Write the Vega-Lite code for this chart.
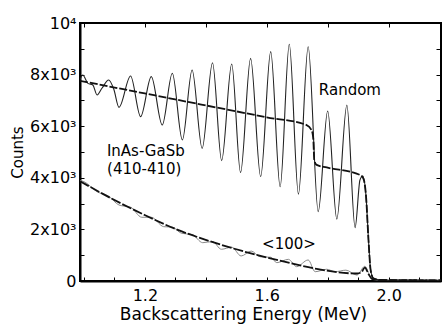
{
  "$schema": "https://vega.github.io/schema/vega-lite/v6.json",
  "width": 361,
  "height": 258,
  "autosize": {"type": "none"},
  "padding": {"left": 80, "top": 23, "right": 1, "bottom": 44},
  "background": "white",
  "config": {
    "view": {"stroke": "black", "strokeWidth": 2},
    "font": "DejaVu Sans",
    "axis": {"labelFont": "DejaVu Sans", "titleFont": "DejaVu Sans", "labelColor": "black", "titleColor": "black", "domainColor": "black", "tickColor": "black", "grid": false, "titleFontWeight": "normal"}
  },
  "datasets": {
    "curves": [
      {"series": "random", "E": 0.987, "C": 7800},
      {"series": "random", "E": 0.996, "C": 7985},
      {"series": "random", "E": 1.013, "C": 7660},
      {"series": "random", "E": 1.029, "C": 7600},
      {"series": "random", "E": 1.043, "C": 7210},
      {"series": "random", "E": 1.059, "C": 7470},
      {"series": "random", "E": 1.081, "C": 7790},
      {"series": "random", "E": 1.098, "C": 7430},
      {"series": "random", "E": 1.115, "C": 6730},
      {"series": "random", "E": 1.153, "C": 7945},
      {"series": "random", "E": 1.186, "C": 6370},
      {"series": "random", "E": 1.221, "C": 7920},
      {"series": "random", "E": 1.257, "C": 6045},
      {"series": "random", "E": 1.290, "C": 8050},
      {"series": "random", "E": 1.323, "C": 5465},
      {"series": "random", "E": 1.355, "C": 8180},
      {"series": "random", "E": 1.388, "C": 5140},
      {"series": "random", "E": 1.422, "C": 8460},
      {"series": "random", "E": 1.452, "C": 4665},
      {"series": "random", "E": 1.485, "C": 8410},
      {"series": "random", "E": 1.514, "C": 4200},
      {"series": "random", "E": 1.547, "C": 8630},
      {"series": "random", "E": 1.580, "C": 4040},
      {"series": "random", "E": 1.613, "C": 8890},
      {"series": "random", "E": 1.644, "C": 3655},
      {"series": "random", "E": 1.674, "C": 9175},
      {"series": "random", "E": 1.704, "C": 3370},
      {"series": "random", "E": 1.736, "C": 9080},
      {"series": "random", "E": 1.769, "C": 2690},
      {"series": "random", "E": 1.800, "C": 6590},
      {"series": "random", "E": 1.830, "C": 2400},
      {"series": "random", "E": 1.863, "C": 6820},
      {"series": "random", "E": 1.890, "C": 2065},
      {"series": "random", "E": 1.906, "C": 3915},
      {"series": "random", "E": 1.915, "C": 4070},
      {"series": "random", "E": 1.926, "C": 3270},
      {"series": "random", "E": 1.934, "C": 1590},
      {"series": "random", "E": 1.941, "C": 426},
      {"series": "random", "E": 1.950, "C": 105},
      {"series": "random", "E": 1.972, "C": 40},
      {"series": "random", "E": 2.000, "C": 25},
      {"series": "random", "E": 2.172, "C": 20},

      {"series": "randomFit", "E": 0.987, "C": 7760},
      {"series": "randomFit", "E": 1.200, "C": 7270},
      {"series": "randomFit", "E": 1.381, "C": 6850},
      {"series": "randomFit", "E": 1.600, "C": 6345},
      {"series": "randomFit", "E": 1.731, "C": 6045},
      {"series": "randomFit", "E": 1.748, "C": 5820},
      {"series": "randomFit", "E": 1.753, "C": 5465},
      {"series": "randomFit", "E": 1.756, "C": 4690},
      {"series": "randomFit", "E": 1.764, "C": 4500},
      {"series": "randomFit", "E": 1.797, "C": 4400},
      {"series": "randomFit", "E": 1.906, "C": 4110},
      {"series": "randomFit", "E": 1.917, "C": 3980},
      {"series": "randomFit", "E": 1.926, "C": 3270},
      {"series": "randomFit", "E": 1.934, "C": 1590},
      {"series": "randomFit", "E": 1.941, "C": 426},
      {"series": "randomFit", "E": 1.950, "C": 105},
      {"series": "randomFit", "E": 1.972, "C": 40},
      {"series": "randomFit", "E": 2.172, "C": 25},

      {"series": "aligned", "E": 0.987, "C": 3900},
      {"series": "aligned", "E": 1.000, "C": 3850},
      {"series": "aligned", "E": 1.043, "C": 3460},
      {"series": "aligned", "E": 1.081, "C": 3290},
      {"series": "aligned", "E": 1.115, "C": 2945},
      {"series": "aligned", "E": 1.153, "C": 2860},
      {"series": "aligned", "E": 1.190, "C": 2470},
      {"series": "aligned", "E": 1.221, "C": 2470},
      {"series": "aligned", "E": 1.262, "C": 2105},
      {"series": "aligned", "E": 1.290, "C": 2090},
      {"series": "aligned", "E": 1.320, "C": 1850},
      {"series": "aligned", "E": 1.355, "C": 1800},
      {"series": "aligned", "E": 1.390, "C": 1485},
      {"series": "aligned", "E": 1.422, "C": 1530},
      {"series": "aligned", "E": 1.451, "C": 1230},
      {"series": "aligned", "E": 1.485, "C": 1310},
      {"series": "aligned", "E": 1.516, "C": 970},
      {"series": "aligned", "E": 1.549, "C": 1160},
      {"series": "aligned", "E": 1.578, "C": 940},
      {"series": "aligned", "E": 1.613, "C": 920},
      {"series": "aligned", "E": 1.633, "C": 710},
      {"series": "aligned", "E": 1.671, "C": 840},
      {"series": "aligned", "E": 1.698, "C": 555},
      {"series": "aligned", "E": 1.736, "C": 815},
      {"series": "aligned", "E": 1.759, "C": 360},
      {"series": "aligned", "E": 1.797, "C": 455},
      {"series": "aligned", "E": 1.824, "C": 360},
      {"series": "aligned", "E": 1.860, "C": 420},
      {"series": "aligned", "E": 1.896, "C": 230},
      {"series": "aligned", "E": 1.922, "C": 570},
      {"series": "aligned", "E": 1.945, "C": 65},
      {"series": "aligned", "E": 1.972, "C": 30},
      {"series": "aligned", "E": 2.172, "C": 25},

      {"series": "alignedFit", "E": 0.987, "C": 3870},
      {"series": "alignedFit", "E": 1.089, "C": 3205},
      {"series": "alignedFit", "E": 1.199, "C": 2560},
      {"series": "alignedFit", "E": 1.308, "C": 1980},
      {"series": "alignedFit", "E": 1.418, "C": 1525},
      {"series": "alignedFit", "E": 1.545, "C": 1080},
      {"series": "alignedFit", "E": 1.654, "C": 760},
      {"series": "alignedFit", "E": 1.764, "C": 470},
      {"series": "alignedFit", "E": 1.896, "C": 290},
      {"series": "alignedFit", "E": 1.910, "C": 330},
      {"series": "alignedFit", "E": 1.922, "C": 520},
      {"series": "alignedFit", "E": 1.935, "C": 250},
      {"series": "alignedFit", "E": 1.946, "C": 80},
      {"series": "alignedFit", "E": 1.972, "C": 30},
      {"series": "alignedFit", "E": 2.172, "C": 25}
    ],
    "labels": [
      {"text": "Random", "E": 1.873, "C": 7400},
      {"text": "InAs-GaSb", "E": 1.203, "C": 5020},
      {"text": "(410-410)", "E": 1.198, "C": 4330},
      {"text": "<100>", "E": 1.673, "C": 1415}
    ],
    "frame": [
      {"E": 1.5, "C": 5000}
    ]
  },
  "layer": [
    {
      "encoding": {
        "x": {
          "field": "E", "type": "quantitative",
          "scale": {"domain": [0.987, 2.172], "zero": false, "nice": false},
          "axis": {
            "title": "Backscattering Energy (MeV)",
            "titleFontSize": 17, "titlePadding": 3, "titleX": 163, "titleAlign": "center",
            "values": [1.0, 1.1, 1.2, 1.3, 1.4, 1.5, 1.6, 1.7, 1.8, 1.9, 2.0, 2.1],
            "labelExpr": "(abs(datum.value-1.2)<0.001 || abs(datum.value-1.6)<0.001 || abs(datum.value-2.0)<0.001) ? format(datum.value, '.1f') : ''",
            "labelFontSize": 16, "labelPadding": 10,
            "tickSize": -4, "domainWidth": 2, "labelFlush": false
          }
        },
        "y": {
          "field": "C", "type": "quantitative",
          "scale": {"domain": [0, 10000], "nice": false},
          "axis": {
            "title": "Counts", "titleFontSize": 15, "titlePadding": 4,
            "values": [0, 1000, 2000, 3000, 4000, 5000, 6000, 7000, 8000, 9000, 10000],
            "labelExpr": "datum.value == 0 ? '0' : (datum.value == 10000 ? '10⁴' : (datum.value % 2000 == 0 ? (datum.value/1000) + 'x10³' : ''))",
            "labelFontSize": 16, "labelPadding": 8,
            "tickSize": -4, "domainWidth": 2, "labelFlush": false
          }
        }
      },
      "layer": [
        {
          "data": {"name": "curves"},
          "transform": [{"filter": "datum.series == 'aligned'"}],
          "mark": {"type": "line", "interpolate": "monotone", "color": "#8a8a8a", "strokeWidth": 1, "clip": true}
        },
        {
          "data": {"name": "curves"},
          "transform": [{"filter": "datum.series == 'alignedFit'"}],
          "mark": {"type": "line", "interpolate": "monotone", "color": "#111", "strokeWidth": 1.8, "strokeDash": [10, 2], "clip": true}
        },
        {
          "data": {"name": "curves"},
          "transform": [{"filter": "datum.series == 'random'"}],
          "mark": {"type": "line", "interpolate": "monotone", "color": "#222", "strokeWidth": 1.1, "clip": true}
        },
        {
          "data": {"name": "curves"},
          "transform": [{"filter": "datum.series == 'randomFit'"}],
          "mark": {"type": "line", "interpolate": "monotone", "color": "#111", "strokeWidth": 1.8, "strokeDash": [8, 2], "clip": true}
        },
        {
          "data": {"name": "labels"},
          "mark": {"type": "text", "fontSize": 15, "color": "black", "align": "center", "baseline": "middle"},
          "encoding": {"text": {"field": "text"}}
        }
      ]
    },
    {
      "data": {"name": "frame"},
      "mark": {"type": "point", "opacity": 0},
      "encoding": {
        "x": {
          "field": "E", "type": "quantitative",
          "axis": {"orient": "top", "title": null, "labels": false, "domain": false,
                   "values": [1.0, 1.2, 1.4, 1.6, 1.8, 2.0], "tickSize": -4}
        },
        "y": {
          "field": "C", "type": "quantitative",
          "axis": {"orient": "right", "title": null, "labels": false, "domain": false,
                   "values": [1000, 2000, 3000, 4000, 5000, 6000, 7000, 8000, 9000], "tickSize": -5}
        }
      }
    }
  ],
  "resolve": {"axis": {"x": "independent", "y": "independent"}}
}
